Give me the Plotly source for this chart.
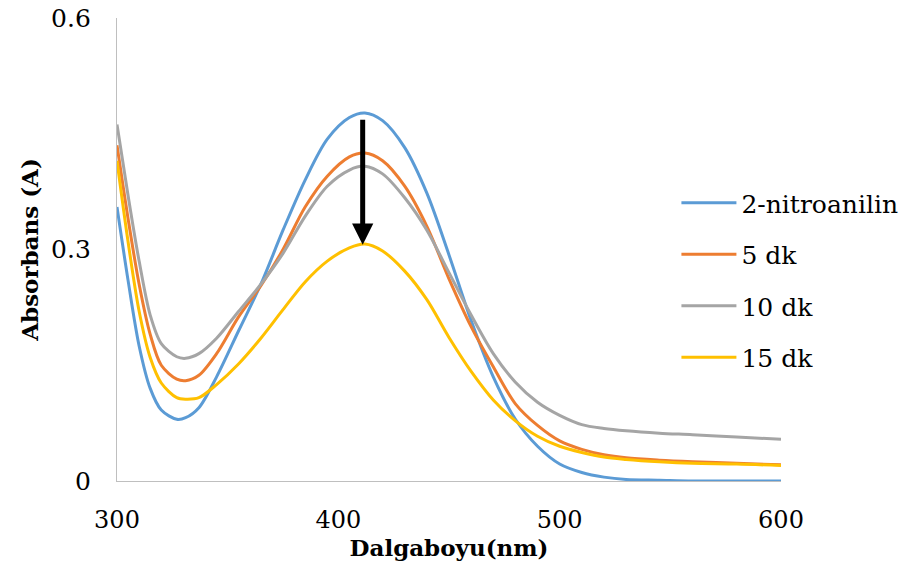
import plotly.graph_objects as go

wavelength = [300, 305, 310, 315, 320, 327, 331, 337, 345, 355, 365, 375, 385, 395, 405, 412,
              420, 430, 440, 450, 460, 470, 480, 490, 500, 510, 520, 530, 545, 560, 580, 600]

nitroanilin = [0.355, 0.26, 0.175, 0.12, 0.092, 0.080, 0.082, 0.095, 0.135, 0.195, 0.255, 0.325,
               0.390, 0.443, 0.471, 0.477, 0.467, 0.432, 0.373, 0.293, 0.208, 0.135, 0.080,
               0.045, 0.022, 0.011, 0.005, 0.002, 0.001, 0.0, 0.0, 0.0]
dk5 = [0.435, 0.34, 0.255, 0.19, 0.150, 0.132, 0.130, 0.137, 0.165, 0.213, 0.253, 0.300,
       0.355, 0.395, 0.420, 0.425, 0.415, 0.382, 0.330, 0.262, 0.200, 0.148, 0.100,
       0.072, 0.052, 0.041, 0.034, 0.030, 0.027, 0.025, 0.023, 0.021]
dk10 = [0.462, 0.37, 0.285, 0.215, 0.178, 0.161, 0.159, 0.165, 0.185, 0.220, 0.255, 0.295,
        0.343, 0.382, 0.403, 0.408, 0.398, 0.367, 0.325, 0.270, 0.215, 0.165, 0.128,
        0.102, 0.085, 0.073, 0.068, 0.065, 0.062, 0.060, 0.057, 0.054]
dk15 = [0.415, 0.31, 0.22, 0.16, 0.127, 0.108, 0.106, 0.108, 0.125, 0.152, 0.185, 0.222,
        0.258, 0.285, 0.302, 0.307, 0.298, 0.272, 0.235, 0.186, 0.142, 0.105, 0.078,
        0.058, 0.045, 0.037, 0.031, 0.028, 0.025, 0.023, 0.022, 0.020]

series_names = ["2-nitroanilin", "5 dk", "10 dk", "15 dk"]
series_values = [nitroanilin, dk5, dk10, dk15]
series_colors = ["#5B9BD5", "#ED7D31", "#A5A5A5", "#FFC000"]

x_ticks = [300, 400, 500, 600]
y_ticks = [0, 0.3, 0.6]
y_ticklabels = ["0", "0.3", "0.6"]

arrow_x = 411
arrow_from = 0.470
arrow_to = 0.306

FONT = "DejaVu Serif"

fig = go.Figure()
for i, (name, vals, col) in enumerate(zip(series_names, series_values, series_colors)):
    fig.add_trace(go.Scatter(
        x=wavelength, y=vals, name=name, mode="lines",
        line=dict(color=col, width=3, shape="spline", smoothing=0.9),
        legendgroup=f"g{i}",
    ))

fig.add_annotation(
    x=arrow_x, y=arrow_to, ax=arrow_x, ay=arrow_from,
    xref="x", yref="y", axref="x", ayref="y",
    showarrow=True, arrowhead=2, arrowsize=0.85, arrowwidth=5,
    arrowcolor="black", text="", standoff=0,
)

fig.update_layout(
    width=905, height=569,
    margin=dict(l=117, r=124, t=18, b=88, autoexpand=False),
    paper_bgcolor="white", plot_bgcolor="white",
    font=dict(family=FONT, size=24, color="black"),
    showlegend=True,
    legend=dict(
        x=0.8425, y=0.434, xanchor="left", yanchor="middle",
        font=dict(family=FONT, size=25, color="black"),
        tracegroupgap=16, itemwidth=55, bgcolor="rgba(0,0,0,0)",
    ),
    xaxis=dict(
        range=[300, 600], tickvals=x_ticks, showgrid=False, zeroline=False,
        showline=True, linecolor="#BFBFBF", linewidth=1.3, automargin=False,
        ticks="outside", ticklen=0, ticklabelstandoff=17,
        tickfont=dict(family=FONT, size=24, color="black"),
        title=dict(text="<b>Dalgaboyu(nm)</b>", standoff=0,
                   font=dict(family=FONT, size=23, color="black")),
    ),
    yaxis=dict(
        range=[0, 0.6], tickvals=y_ticks, ticktext=y_ticklabels, showgrid=False,
        zeroline=False, showline=True, linecolor="#BFBFBF", linewidth=1.3, automargin=False,
        ticks="outside", ticklen=0, ticklabelstandoff=20,
        tickfont=dict(family=FONT, size=25, color="black"),
        title=dict(text="<b>Absorbans (A)</b>", standoff=6,
                   font=dict(family=FONT, size=23, color="black")),
    ),
)

fig.write_html("out.html")
